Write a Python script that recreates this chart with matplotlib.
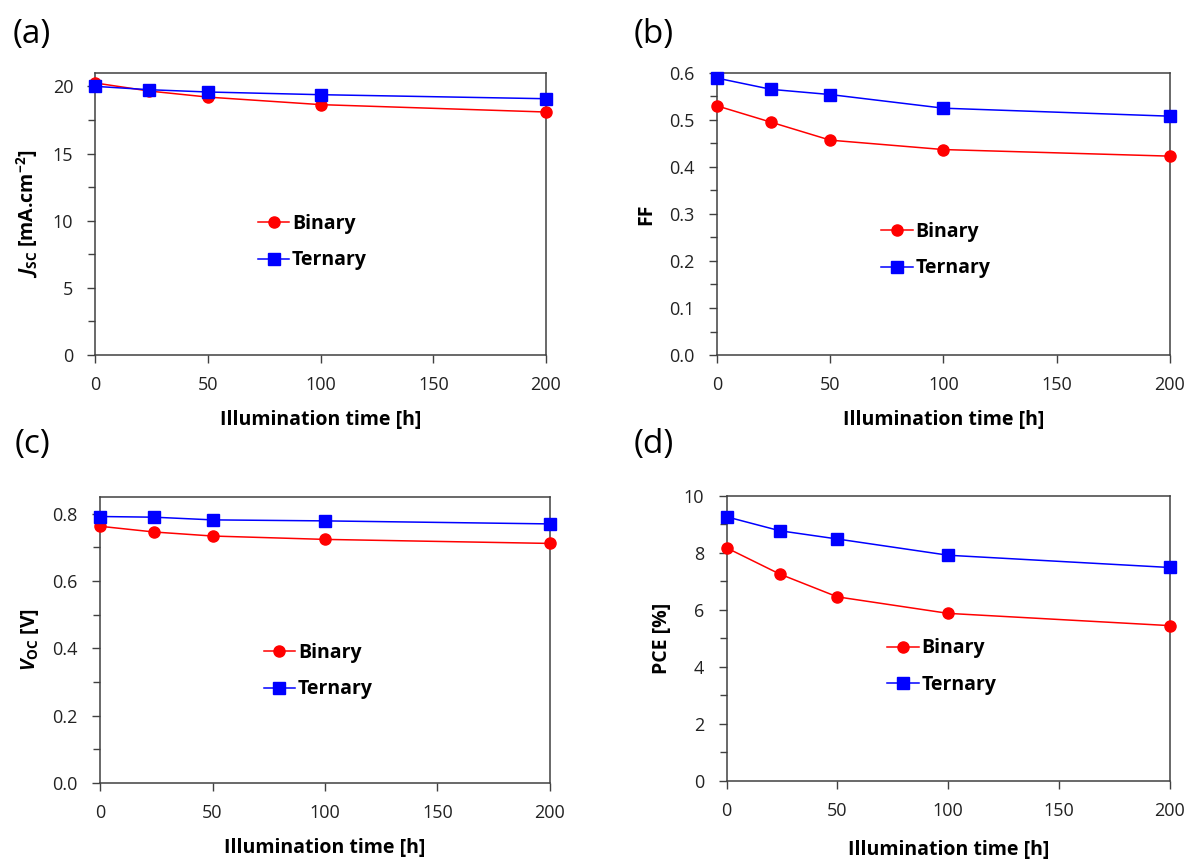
import numpy as np
import matplotlib
matplotlib.use("Agg")
import matplotlib.pyplot as plt
from matplotlib.ticker import MultipleLocator

plt.rcParams['font.family'] = ['Open Sans', 'DejaVu Sans']
plt.rcParams['mathtext.fontset'] = 'custom'
plt.rcParams['mathtext.it'] = 'Open Sans:italic:bold'
plt.rcParams['mathtext.rm'] = 'Open Sans:bold'
plt.rcParams['mathtext.bf'] = 'Open Sans:bold'

# illumination time [h]
time_h = [0, 24, 50, 100, 200]

# short-circuit current density
jsc_binary = [20.25, 19.65, 19.2, 18.64, 18.09]
jsc_ternary = [20.0, 19.75, 19.58, 19.38, 19.08]

# fill factor
ff_binary = [0.530, 0.495, 0.457, 0.437, 0.423]
ff_ternary = [0.589, 0.565, 0.554, 0.525, 0.508]

# open-circuit voltage
voc_binary = [0.763, 0.746, 0.734, 0.724, 0.712]
voc_ternary = [0.792, 0.790, 0.782, 0.779, 0.770]

# power conversion efficiency
pce_binary = [8.18, 7.26, 6.46, 5.88, 5.45]
pce_ternary = [9.27, 8.78, 8.49, 7.92, 7.49]

panel_tags = ['(a)', '(b)', '(c)', '(d)']
ylabels = [r'$J_{\mathrm{SC}}$ [mA.cm$^{\mathrm{-2}}$]', 'FF',
           r'$V_{\mathrm{OC}}$ [V]', 'PCE [%]']

fig = plt.figure(figsize=(11.92, 8.6), dpi=100)

panels = [
    # rect, binary, ternary, ylim, major, minor, fmt, legend anchor, ylabel x, xlabel y
    ([0.080, 0.5872, 0.378, 0.328], jsc_binary, jsc_ternary, (0, 21), 5, 2.5, '%d', (0.361, 0.50), -0.123, -0.195),
    ([0.6015, 0.5872, 0.3800, 0.328], ff_binary, ff_ternary, (0, 0.6), 0.1, 0.05, '%.1f', (0.363, 0.472), -0.133, -0.195),
    ([0.0839, 0.0895, 0.3775, 0.3326], voc_binary, voc_ternary, (0, 0.85), 0.2, 0.1, '%.1f', (0.364, 0.49), -0.131, -0.192),
    ([0.6095, 0.0919, 0.3720, 0.3314], pce_binary, pce_ternary, (0, 10), 2, 1, '%d', (0.363, 0.50), -0.124, -0.207),
]
tag_pos = [(32, 35), (654, 35), (32, 445), (654, 445)]

axis_col = '#404040'
for i, (rect, yb, yt, ylim, major, minor, fmt, lpos, ylx, xly) in enumerate(panels):
    ax = fig.add_axes(rect)
    ax.plot(time_h, yb, color='#FF0000', marker='o', markersize=8, lw=1.1,
            label='Binary', clip_on=False, zorder=3)
    ax.plot(time_h, yt, color='#0000FF', marker='s', markersize=8, lw=1.1,
            label='Ternary', clip_on=False, zorder=4)
    ax.set_xlim(0, 200)
    ax.set_ylim(*ylim)
    ax.xaxis.set_major_locator(MultipleLocator(50))
    ax.yaxis.set_major_locator(MultipleLocator(major))
    ax.yaxis.set_minor_locator(MultipleLocator(minor))
    ax.yaxis.set_major_formatter(plt.FormatStrFormatter(fmt))
    for s in ax.spines.values():
        s.set_color(axis_col)
        s.set_linewidth(1.1)
    ax.tick_params(axis='both', which='major', direction='out', length=6,
                   width=1, color=axis_col, labelsize=13, labelcolor='#222222')
    ax.tick_params(axis='x', which='major', pad=9)
    ax.tick_params(axis='y', which='major', pad=10)
    ax.tick_params(axis='y', which='minor', direction='out', length=5,
                   width=1, color=axis_col)
    ax.set_xlabel('Illumination time [h]', fontsize=14, fontweight='bold')
    ax.xaxis.set_label_coords(0.5, xly)
    ax.set_ylabel(ylabels[i], fontsize=14, fontweight='bold')
    ax.yaxis.set_label_coords(ylx, 0.5)
    ax.legend(loc='upper left', bbox_to_anchor=lpos, frameon=False,
              prop={'weight': 'bold', 'size': 14},
              handlelength=1.6, handletextpad=0.15, labelspacing=0.85,
              borderpad=0, borderaxespad=0)
    fig.text(tag_pos[i][0] / 1192, 1 - tag_pos[i][1] / 860, panel_tags[i],
             fontsize=24, ha='center', va='center')

fig.savefig('out.png', dpi=100)
